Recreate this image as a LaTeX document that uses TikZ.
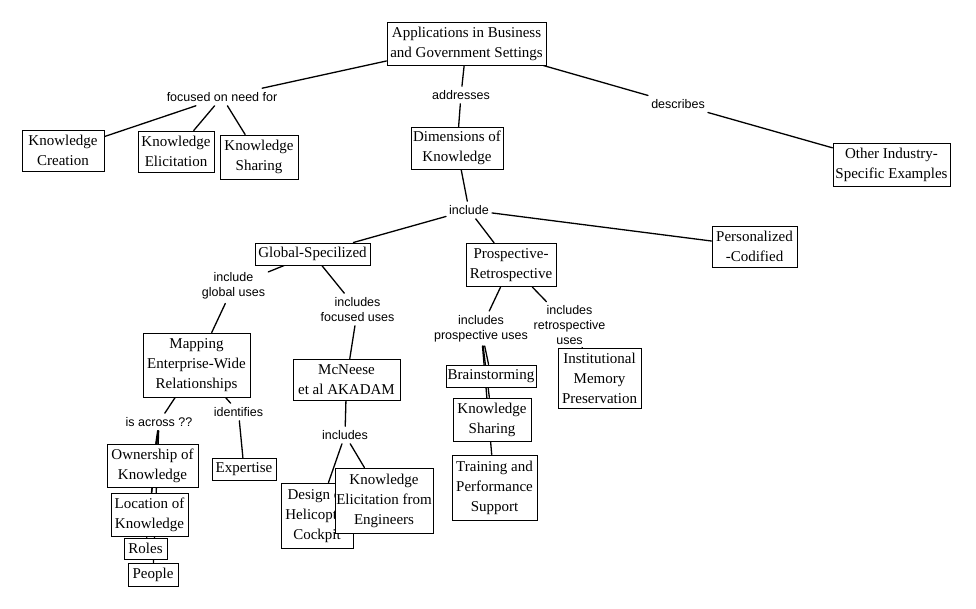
\documentclass[tikz,border=0pt]{standalone}
\usepackage{fontspec}
\setmainfont{Liberation Serif}
\newfontfamily\lblfont{Liberation Sans}
\usetikzlibrary{backgrounds}
\begin{document}
\begin{tikzpicture}[x=1pt,y=-1pt,
  cbox/.style={draw, fill=white, line width=1pt, align=center, inner sep=1pt,
    font=\fontsize{15}{20}\selectfont},
  lbl/.style={align=center, inner xsep=3pt, inner ysep=4pt,
    font=\lblfont\fontsize{12.5}{15}\selectfont},
  conn/.style={line width=1.3pt, line cap=round}]
\useasboundingbox (0,0) rectangle (976,608);

% concepts
\node[cbox, minimum width=159pt, minimum height=43pt] (app) at (466.5,43.5) {Applications in Business\\and Government Settings};
\node[cbox, minimum width=82pt, minimum height=41pt] (kc) at (63,150.5) {Knowledge\\Creation};
\node[cbox, minimum width=76pt, minimum height=41pt] (ke) at (176,151.5) {Knowledge\\Elicitation};
\node[cbox, minimum width=78pt, minimum height=44pt] (ks1) at (259,157) {Knowledge\\Sharing};
\node[cbox, minimum width=92pt, minimum height=42pt] (dim) at (457,148) {Dimensions of\\Knowledge};
\node[cbox, minimum width=117pt, minimum height=43pt] (oth) at (891.5,164.5) {Other Industry-\\Specific Examples};
\node[cbox, minimum width=115pt, minimum height=22pt] (glob) at (312.5,254) {Global-Specilized};
\node[cbox, minimum width=90pt, minimum height=43pt] (pros) at (511,265) {Prospective-\\Retrospective};
\node[cbox, minimum width=85pt, minimum height=41pt] (pers) at (754.5,246.5) {Personalized\\-Codified};
\node[cbox, minimum width=107pt, minimum height=64pt] (map) at (196.5,365) {Mapping\\Enterprise-Wide\\Relationships};
\node[cbox, minimum width=107pt, minimum height=41pt] (mcn) at (346.5,379.5) {McNeese\\et al AKADAM};
\node[cbox, minimum width=90pt, minimum height=22pt] (brain) at (491,376) {Brainstorming};
\node[cbox, minimum width=83pt, minimum height=60pt] (inst) at (599.5,378) {Institutional\\Memory\\Preservation};
\node[cbox, minimum width=78pt, minimum height=43pt] (ks2) at (492,419.5) {Knowledge\\Sharing};
\node[cbox, minimum width=85pt, minimum height=65pt] (train) at (494.5,487.5) {Training and\\Performance\\Support};
\node[cbox, minimum width=91pt, minimum height=43pt] (own) at (152.5,465.5) {Ownership of\\Knowledge};
\node[cbox, minimum width=64pt, minimum height=22pt] (exp) at (244,469) {Expertise};
\node[cbox, minimum width=77pt, minimum height=43pt] (loc) at (149.5,514.5) {Location of\\Knowledge};
\node[cbox, minimum width=43pt, minimum height=21pt] (roles) at (145.5,548.5) {Roles};
\node[cbox, minimum width=50pt, minimum height=23pt] (people) at (153,574.5) {People};
\node[cbox, minimum width=72pt, minimum height=65pt] (des) at (317,515.5) {Design of\\Helicopter\\Cockpit};
\node[cbox, minimum width=98pt, minimum height=65pt] (kee) at (384,500.5) {Knowledge\\Elicitation from\\Engineers};

% linking phrases
\node[lbl] (l1) at (222,97) {focused on need for};
\node[lbl] (l2) at (461,95) {addresses};
\node[lbl] (l3) at (678,104) {describes};
\node[lbl] (l4) at (469,210) {include};
\node[lbl] (l5) at (233.5,286) {include\\global uses};
\node[lbl] (l6) at (357.5,309.5) {includes\\focused uses};
\node[lbl] (l7) at (481,328.5) {includes\\prospective uses};
\node[lbl] (l8) at (569.5,325.5) {includes\\retrospective\\uses};
\node[lbl] (l9) at (159,422) {is across ??};
\node[lbl] (l10) at (238.5,412) {identifies};
\node[lbl] (l11) at (345,435) {includes};

% connectors
\begin{scope}[on background layer]
\fill[white] (0,0) rectangle (976,608);
\draw[conn] (app) -- (l1);
\draw[conn] (l1) -- (kc);
\draw[conn] (l1) -- (ke);
\draw[conn] (l1) -- (ks1);
\draw[conn] (app) -- (l2);
\draw[conn] (l2) -- (dim);
\draw[conn] (app) -- (l3);
\draw[conn] (l3) -- (oth);
\draw[conn] (dim) -- (l4);
\draw[conn] (l4) -- (glob);
\draw[conn] (l4) -- (pros);
\draw[conn] (l4) -- (pers);
\draw[conn] (glob) -- (l5);
\draw[conn] (l5) -- (map);
\draw[conn] (glob) -- (l6);
\draw[conn] (l6) -- (mcn);
\draw[conn] (pros) -- (l7);
\draw[conn] (l7) -- (brain);
\draw[conn] (l7) -- (ks2);
\draw[conn] (l7) -- (train);
\draw[conn] (pros) -- (l8);
\draw[conn] (l8) -- (inst);
\draw[conn] (map) -- (l9);
\draw[conn] (l9) -- (own);
\draw[conn] (l9) -- (loc);
\draw[conn] (l9) -- (roles);
\draw[conn] (l9) -- (people);
\draw[conn] (map) -- (l10);
\draw[conn] (l10) -- (exp);
\draw[conn] (mcn) -- (l11);
\draw[conn] (l11) -- (des);
\draw[conn] (l11) -- (kee);
\end{scope}
\end{tikzpicture}
\end{document}
